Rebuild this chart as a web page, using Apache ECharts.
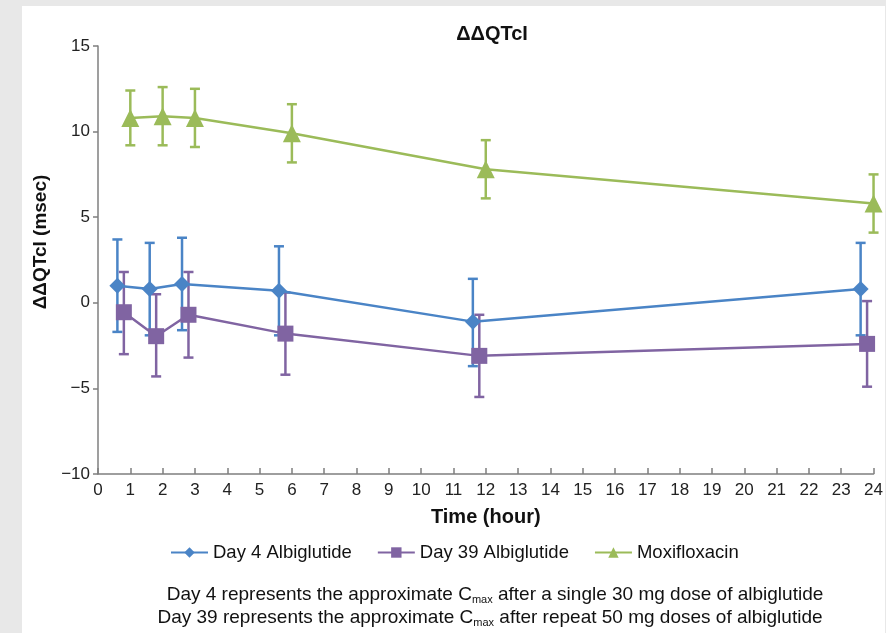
<!DOCTYPE html>
<html>
<head>
<meta charset="utf-8">
<script src="https://cdn.jsdelivr.net/npm/echarts@6/dist/echarts.min.js"></script>
<style>
html,body{margin:0;padding:0;background:#e8e8e8;}
#chart{width:886px;height:633px;}
</style>
</head>
<body>
<div id="chart"></div>
<script>
// ---- data ----
const xTicks = [0,1,2,3,4,5,6,7,8,9,10,11,12,13,14,15,16,17,18,19,20,21,22,23,24];
const seriesNames = ['Day 4 Albiglutide', 'Day 39 Albiglutide', 'Moxifloxacin'];

const day4Time  = [0.6, 1.6, 2.6, 5.6, 11.6, 23.6];
const day4Mean  = [1.0, 0.8, 1.1, 0.7, -1.1, 0.8];
const day4Upper = [3.7, 3.5, 3.8, 3.3, 1.4, 3.5];
const day4Lower = [-1.7, -1.9, -1.6, -1.9, -3.7, -1.9];

const day39Time  = [0.8, 1.8, 2.8, 5.8, 11.8, 23.8];
const day39Mean  = [-0.55, -1.95, -0.7, -1.8, -3.1, -2.4];
const day39Upper = [1.8, 0.5, 1.8, 0.6, -0.7, 0.1];
const day39Lower = [-3.0, -4.3, -3.2, -4.2, -5.5, -4.9];

const moxiTime  = [1, 2, 3, 6, 12, 24];
const moxiMean  = [10.8, 10.9, 10.8, 9.9, 7.8, 5.8];
const moxiUpper = [12.4, 12.6, 12.5, 11.6, 9.5, 7.5];
const moxiLower = [9.2, 9.2, 9.1, 8.2, 6.1, 4.1];

const footnote1 = ['Day 4 represents the approximate C', 'max', ' after a single 30 mg dose of albiglutide'];
const footnote2 = ['Day 39 represents the approximate C', 'max', ' after repeat 50 mg doses of albiglutide'];

// ---- styling ----
const colors = ['#4a84c6', '#8064a2', '#9bbb59'];
const FONT = 'Liberation Sans, Arial, Helvetica, sans-serif';

function pairs(xs, ys){ return xs.map((x,i)=>[x, ys[i]]); }
function errData(xs, lo, hi){ return xs.map((x,i)=>[x, lo[i], hi[i]]); }

function errorSeries(data, color){
  return {
    type: 'custom',
    data: data,
    z: 2,
    silent: true,
    encode: {x: 0, y: [1,2]},
    renderItem: function(params, api){
      const x = api.value(0), lo = api.value(1), hi = api.value(2);
      const p1 = api.coord([x, hi]);
      const p2 = api.coord([x, lo]);
      const cap = 5;
      const st = {stroke: color, lineWidth: 2.5};
      return {
        type: 'group',
        children: [
          {type:'line', shape:{x1:p1[0], y1:p1[1], x2:p2[0], y2:p2[1]}, style: st},
          {type:'line', shape:{x1:p1[0]-cap, y1:p1[1], x2:p1[0]+cap, y2:p1[1]}, style: st},
          {type:'line', shape:{x1:p2[0]-cap, y1:p2[1], x2:p2[0]+cap, y2:p2[1]}, style: st}
        ]
      };
    }
  };
}

function lineSeries(name, data, color, symbol, size){
  return {
    name: name,
    type: 'line',
    data: data,
    z: 3,
    symbol: symbol,
    symbolSize: size,
    showAllSymbol: true,
    lineStyle: {color: color, width: 2.5},
    itemStyle: {color: color},
    emphasis: {disabled: true},
    animation: false
  };
}

const chart = echarts.init(document.getElementById('chart'), null, {renderer: 'canvas'});

const option = {
  animation: false,
  backgroundColor: '#e8e8e8',
  textStyle: {fontFamily: FONT},
  title: {
    text: 'ΔΔQTcI',
    left: 487,
    top: 19,
    textAlign: 'center',
    textStyle: {fontFamily: FONT, fontSize: 20, fontWeight: 'bold', color: '#111'}
  },
  grid: {left: 98, right: 10, top: 46, bottom: 159, containLabel: false},
  legend: {
    data: seriesNames,
    left: 165,
    top: 538,
    itemWidth: 37,
    itemHeight: 13,
    itemGap: 25,
    textStyle: {fontFamily: FONT, fontSize: 18.5, color: '#111'},
    selectedMode: false
  },
  xAxis: {
    type: 'value',
    min: 0, max: 24, interval: 1,
    name: 'Time (hour)',
    nameLocation: 'middle',
    nameGap: 33,
    nameTextStyle: {fontFamily: FONT, fontSize: 20, fontWeight: 'bold', color: '#111'},
    axisLine: {show: true, onZero: false, lineStyle: {color: '#7f7f7f', width: 1.5}},
    axisTick: {show: true, inside: true, length: 6, lineStyle: {color: '#7f7f7f', width: 1.5}},
    axisLabel: {fontFamily: FONT, fontSize: 17, color: '#222', margin: 8,
      formatter: v => xTicks.includes(v) ? String(v) : ''},
    splitLine: {show: false}
  },
  yAxis: {
    type: 'value',
    min: -10, max: 15, interval: 5,
    axisLine: {show: true, lineStyle: {color: '#7f7f7f', width: 1.5}},
    axisTick: {show: true, inside: false, length: 5, lineStyle: {color: '#7f7f7f', width: 1.5}},
    axisLabel: {fontFamily: FONT, fontSize: 17, color: '#222', margin: 8,
      formatter: v => (v < 0 ? '\u2212' + Math.abs(v) : String(v))},
    splitLine: {show: false}
  },
  graphic: [
    {type: 'rect', z: -10, silent: true, shape: {x: 22, y: 6, width: 863, height: 627}, style: {fill: '#ffffff'}},
    {type: 'text', silent: true, x: 41, y: 242, rotation: Math.PI/2,
      style: {text: 'ΔΔQTcI (msec)', font: 'bold 19px ' + FONT, fill: '#111', align: 'center', verticalAlign: 'middle'}},
    {type: 'text', silent: true, x: 495, y: 595,
      style: {
        text: footnote1[0] + '{sub|' + footnote1[1] + '}' + footnote1[2],
        font: '19px ' + FONT, fill: '#111', align: 'center', verticalAlign: 'middle',
        rich: {sub: {fontSize: 11, fontFamily: FONT, fill: '#111', padding: [9,0,0,0]}}
      }},
    {type: 'text', silent: true, x: 490, y: 618,
      style: {
        text: footnote2[0] + '{sub|' + footnote2[1] + '}' + footnote2[2],
        font: '19px ' + FONT, fill: '#111', align: 'center', verticalAlign: 'middle',
        rich: {sub: {fontSize: 11, fontFamily: FONT, fill: '#111', padding: [9,0,0,0]}}
      }}
  ],
  series: [
    errorSeries(errData(day4Time, day4Lower, day4Upper), colors[0]),
    errorSeries(errData(day39Time, day39Lower, day39Upper), colors[1]),
    errorSeries(errData(moxiTime, moxiLower, moxiUpper), colors[2]),
    lineSeries(seriesNames[0], pairs(day4Time, day4Mean), colors[0], 'diamond', 16),
    lineSeries(seriesNames[1], pairs(day39Time, day39Mean), colors[1], 'rect', 16),
    lineSeries(seriesNames[2], pairs(moxiTime, moxiMean), colors[2], 'triangle', 18)
  ]
};
chart.setOption(option);
</script>
</body>
</html>
